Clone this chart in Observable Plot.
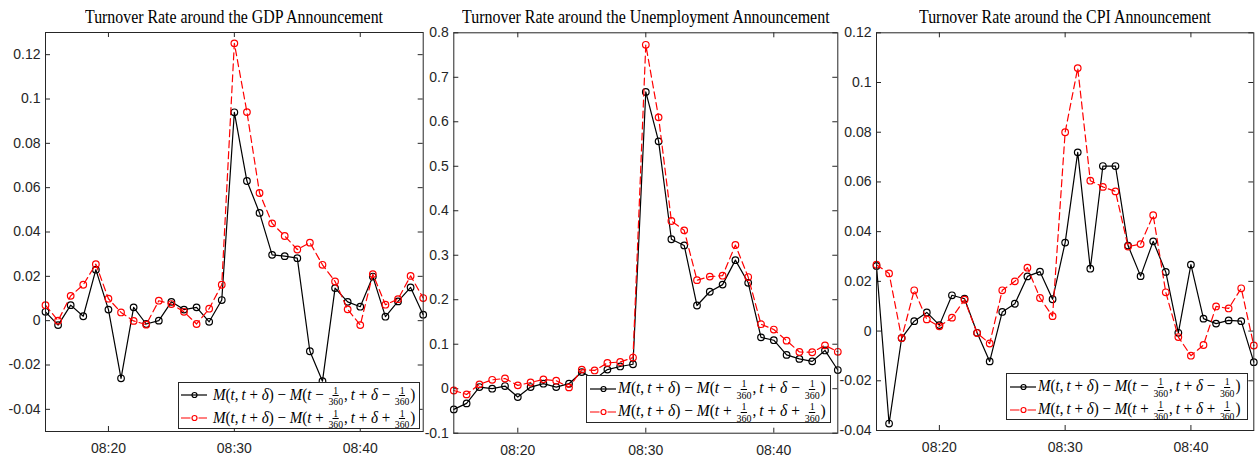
<!DOCTYPE html>
<html><head><meta charset="utf-8">
<script src="https://cdn.jsdelivr.net/npm/d3@7"></script>
<script src="https://cdn.jsdelivr.net/npm/@observablehq/plot@0.6"></script>
<style>
html,body{margin:0;padding:0;background:#fff;}
#root{position:relative;width:1260px;height:461px;overflow:hidden;background:#fff;}
.plotwrap{position:absolute;top:0;}
.title{font-family:"Liberation Serif",serif;font-size:19px;line-height:19px;white-space:nowrap;color:#000;}
.legend{position:absolute;background:#fff;border:1px solid #262626;box-sizing:border-box;}
.math{white-space:nowrap;font-family:"Liberation Serif",serif;font-size:17px;line-height:17px;color:#000;}
.math i{font-style:italic;}
.frac{display:inline-flex;flex-direction:column;align-items:center;vertical-align:middle;font-size:11px;line-height:10.5px;margin:0 1px;}
.frac .num{border-bottom:0.8px solid #000;padding:0 1px;}
.sample{position:absolute;overflow:visible;}
</style>
</head><body>
<div id="root"></div>
<script>
// ---------- data ----------
const times = ["08:15","08:16","08:17","08:18","08:19","08:20","08:21","08:22","08:23","08:24",
  "08:25","08:26","08:27","08:28","08:29","08:30","08:31","08:32","08:33","08:34",
  "08:35","08:36","08:37","08:38","08:39","08:40","08:41","08:42","08:43","08:44","08:45"];
const xTickLabels = ["08:20","08:30","08:40"];

const gdpTicks = [-0.04,-0.02,0,0.02,0.04,0.06,0.08,0.1,0.12];
const unempTicks = [-0.1,0,0.1,0.2,0.3,0.4,0.5,0.6,0.7,0.8];
const cpiTicks = [-0.04,-0.02,0,0.02,0.04,0.06,0.08,0.1,0.12];

const gdpBlack = [0.004,-0.002,0.007,0.002,0.023,0.005,-0.026,0.006,-0.0015,0.000,0.0085,0.005,0.006,-0.0005,0.0093,
  0.094,0.063,0.0486,0.0297,0.0291,0.0282,-0.0138,-0.0273,0.0147,0.0085,0.0063,0.0199,0.0018,0.0087,0.015,0.0027];
const gdpRed = [0.007,0.000,0.0112,0.0162,0.0255,0.0099,0.0037,-0.0001,-0.0018,0.009,0.0075,0.004,-0.0015,0.0054,0.0162,
  0.1251,0.0941,0.0576,0.0439,0.0382,0.0321,0.0352,0.0252,0.0177,0.0051,-0.002,0.021,0.0072,0.0097,0.0202,0.0102];

const unempBlack = [-0.0465,-0.033,0.0037,0.000,0.006,-0.0188,0.0037,0.0113,0.0037,0.0113,0.0375,0.021,0.043,0.050,0.055,
  0.667,0.556,0.336,0.322,0.187,0.218,0.234,0.289,0.238,0.1155,0.109,0.076,0.067,0.0615,0.086,0.042];
const unempRed = [-0.004,-0.0128,0.0098,0.020,0.023,0.0075,0.014,0.021,0.018,0.003,0.043,0.041,0.058,0.060,0.070,
  0.773,0.610,0.377,0.356,0.244,0.252,0.254,0.323,0.251,0.145,0.133,0.108,0.0825,0.082,0.0975,0.083];

const cpiBlack = [0.0262,-0.0372,-0.0028,0.004,0.0075,0.0024,0.0144,0.013,-0.0007,-0.0122,0.0077,0.011,0.022,0.0239,0.0128,
  0.0356,0.0719,0.0251,0.0664,0.0664,0.0344,0.0221,0.0361,0.0238,-0.0007,0.0267,0.005,0.003,0.0043,0.004,-0.0125];
const cpiRed = [0.0267,0.0232,-0.0028,0.0164,0.0047,0.0019,0.0054,0.0126,-0.0008,-0.005,0.0164,0.020,0.0255,0.0133,0.006,
  0.080,0.1058,0.0605,0.058,0.0562,0.034,0.035,0.0466,0.0156,-0.0024,-0.0099,-0.0056,0.0099,0.0091,0.0172,-0.0058];

const titles = ["Turnover Rate around the GDP Announcement",
  "Turnover Rate around the Unemployment Announcement",
  "Turnover Rate around the CPI Announcement"];

// ---------- layout ----------
const panels = [
  {black: gdpBlack, red: gdpRed, ticks: gdpTicks, yDomain: [-0.05, 0.13], title: titles[0],
   svgLeft: 0, width: 430, mL: 45, mR: 7.3, mT: 32, mB: 30, titleLeft: 85, titleWidth: 298,
   lg: {left: 178.3, top: 382, w: 241.7, h: 47.3, sampleLeft: 180.7, textLeft: 212.7, textWidth: 202.3}},
  {black: unempBlack, red: unempRed, ticks: unempTicks, yDomain: [-0.1, 0.8], title: titles[1],
   svgLeft: 430, width: 415, mL: 23.3, mR: 7.7, mT: 32.3, mB: 28.3, titleLeft: 461.7, titleWidth: 367.6,
   lg: {left: 586, top: 375.3, w: 244.7, h: 48, sampleLeft: 590, textLeft: 618.3, textWidth: 207.7}},
  {black: cpiBlack, red: cpiRed, ticks: cpiTicks, yDomain: [-0.04, 0.12], title: titles[2],
   svgLeft: 845, width: 415, mL: 31, mR: 6.7, mT: 32.3, mB: 31, titleLeft: 919, titleWidth: 292,
   lg: {left: 1006, top: 373.3, w: 242.3, h: 46.7, sampleLeft: 1010, textLeft: 1038.3, textWidth: 202.4}}
];

const H = 461;
const AX = "#262626";
const RED = "#ff0000";
const parse = d3.utcParse("%H:%M");
const fmt = d3.utcFormat("%H:%M");
const root = document.getElementById("root");

function placeText(el, left, width, baseline) {
  el.style.position = "absolute"; el.style.left = "0px"; el.style.top = "0px";
  const mk = document.createElement("span");
  mk.style.cssText = "display:inline-block;width:0;height:0;vertical-align:baseline;";
  el.insertBefore(mk, el.firstChild);
  root.appendChild(el);
  const er = el.getBoundingClientRect();
  const mr = mk.getBoundingClientRect();
  const bOff = mr.bottom - er.top;
  el.style.left = left + "px";
  el.style.top = (baseline - bOff) + "px";
  el.style.transformOrigin = "0 0";
  el.style.transform = `scaleX(${width / er.width})`;
}

function frac() {
  return `<span class="frac"><span class="num">1</span><span class="den">360</span></span>`;
}
const legendTexts = [
  `<i>M</i>(<i>t</i>,&thinsp;<i>t</i> + <i>δ</i>) − <i>M</i>(<i>t</i> − ${frac()},&thinsp;<i>t</i> + <i>δ</i> − ${frac()})`,
  `<i>M</i>(<i>t</i>,&thinsp;<i>t</i> + <i>δ</i>) − <i>M</i>(<i>t</i> + ${frac()},&thinsp;<i>t</i> + <i>δ</i> + ${frac()})`
];

const tickDates = xTickLabels.map(parse);

panels.forEach(cfg => {
  const pw = cfg.width - cfg.mL - cfg.mR;
  const ph = H - cfg.mT - cfg.mB;
  const data = times.map((t, i) => ({t: parse(t), b: cfg.black[i], r: cfg.red[i]}));
  const svg = Plot.plot({
    width: cfg.width, height: H,
    marginLeft: cfg.mL, marginRight: cfg.mR, marginTop: cfg.mT, marginBottom: cfg.mB,
    style: {background: "transparent", overflow: "visible", fontFamily: "'Liberation Sans', Arial, sans-serif", fontSize: "14px", color: AX},
    x: {type: "utc", domain: [parse(times[0]), parse(times[times.length - 1])], label: null},
    y: {domain: cfg.yDomain, label: null},
    marks: [
      Plot.axisX(tickDates, {tickSize: 0, tickPadding: 12, tickFormat: fmt, label: null}),
      Plot.axisY(cfg.ticks, {tickSize: 0, tickPadding: 5, tickFormat: d => String(d), label: null}),
      Plot.ruleX(tickDates, {x: d => d, insetBottom: ph - 5, stroke: AX}),
      Plot.ruleX(tickDates, {x: d => d, insetTop: ph - 5, stroke: AX}),
      Plot.ruleY(cfg.ticks, {y: d => d, insetRight: pw - 5, stroke: AX}),
      Plot.ruleY(cfg.ticks, {y: d => d, insetLeft: pw - 5, stroke: AX}),
      Plot.line(data, {x: "t", y: "b", stroke: "#000", strokeWidth: 1.2}),
      Plot.dot(data, {x: "t", y: "b", r: 3.3, stroke: "#000", strokeWidth: 1.2, fill: "none"}),
      Plot.line(data, {x: "t", y: "r", stroke: RED, strokeWidth: 1.2, strokeDasharray: "7,4"}),
      Plot.dot(data, {x: "t", y: "r", r: 3.3, stroke: RED, strokeWidth: 1.2, fill: "none"}),
      Plot.frame({stroke: AX})
    ]
  });
  const wrap = document.createElement("div");
  wrap.className = "plotwrap";
  wrap.style.left = cfg.svgLeft + "px";
  wrap.style.width = cfg.width + "px";
  wrap.appendChild(svg);
  root.appendChild(wrap);

  // title
  const t = document.createElement("div");
  t.className = "title";
  t.textContent = cfg.title;
  placeText(t, cfg.titleLeft, cfg.titleWidth, 22.5);

  // legend
  const lg = cfg.lg;
  const box = document.createElement("div");
  box.className = "legend";
  box.style.left = lg.left + "px"; box.style.top = lg.top + "px";
  box.style.width = lg.w + "px"; box.style.height = lg.h + "px";
  root.appendChild(box);
  [0, 1].forEach(i => {
    const cy = lg.top + 13.4 + i * 22.8;
    const color = i === 0 ? "#000" : RED;
    const s = document.createElementNS("http://www.w3.org/2000/svg", "svg");
    s.setAttribute("class", "sample");
    s.setAttribute("width", 26); s.setAttribute("height", 10);
    s.style.left = lg.sampleLeft + "px"; s.style.top = (cy - 5) + "px";
    s.innerHTML = `<line x1="0" x2="26" y1="5" y2="5" stroke="${color}" stroke-width="1.2" ${i === 1 ? 'stroke-dasharray="9.5,8"' : ""}/>` +
      `<circle cx="13.5" cy="5" r="2.5" fill="none" stroke="${color}" stroke-width="1.2"/>`;
    root.appendChild(s);
    const m = document.createElement("div");
    m.className = "math";
    m.innerHTML = legendTexts[i];
    placeText(m, lg.textLeft, lg.textWidth, cy + 4.5);
  });
});
</script>
</body></html>
